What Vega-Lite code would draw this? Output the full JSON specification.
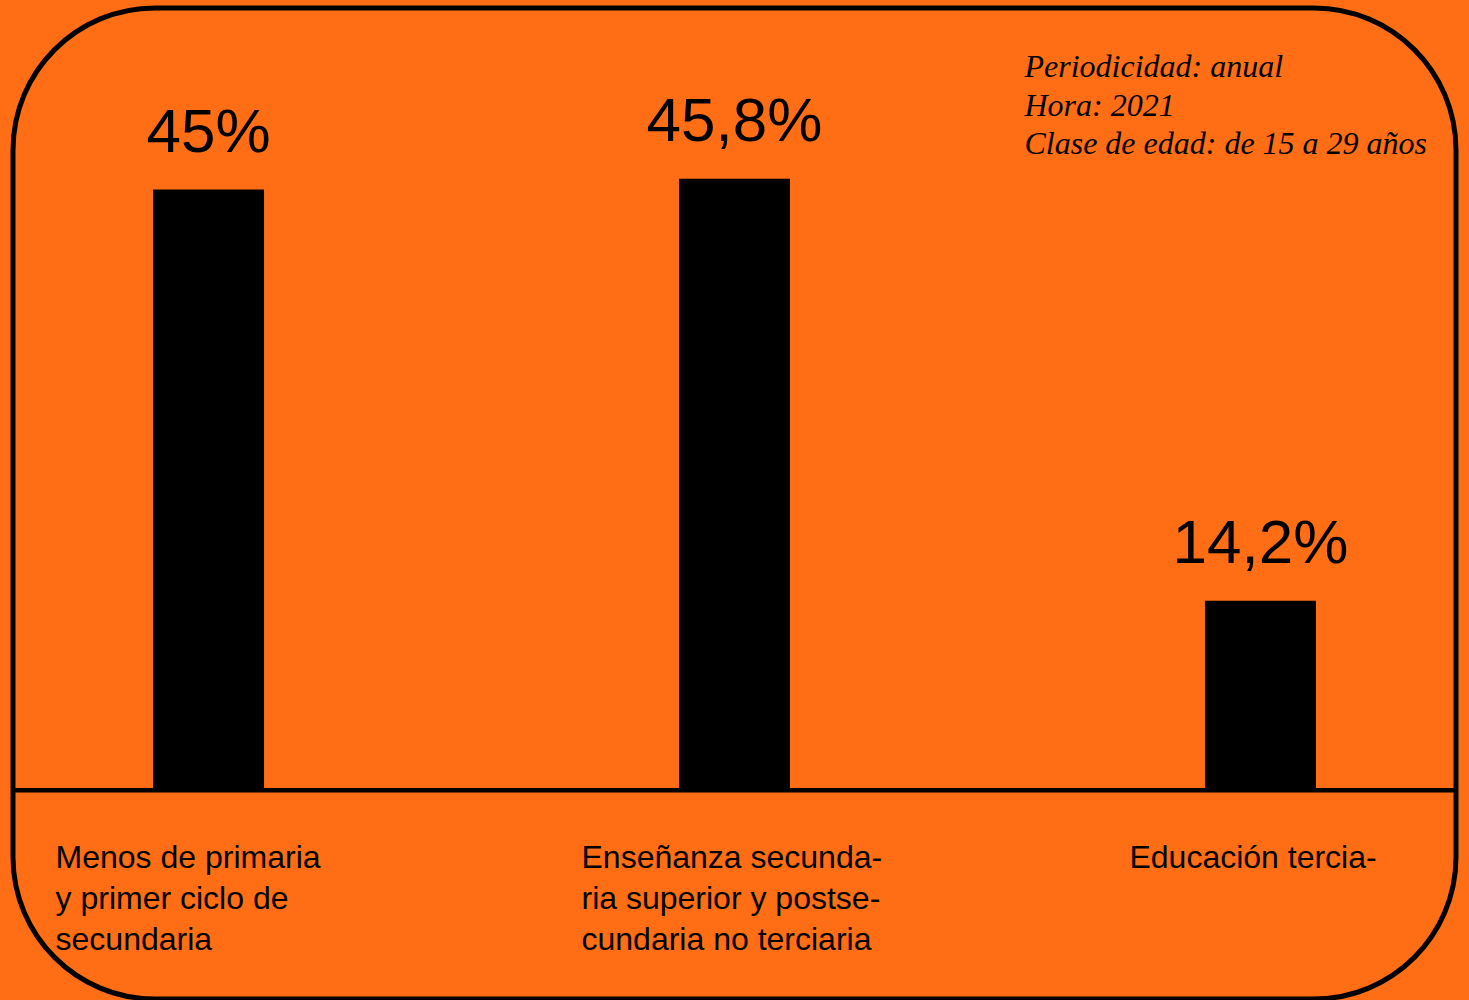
{
  "$schema": "https://vega.github.io/schema/vega-lite/v6.json",
  "width": 1469,
  "height": 1000,
  "autosize": {"type": "fit", "contains": "padding"},
  "padding": {"left": 10, "right": 10, "top": 8, "bottom": 1},
  "background": "#FF6E14",
  "config": {
    "view": {"stroke": "#000000", "strokeWidth": 5, "cornerRadius": 142, "fill": "#FF6E14"}
  },
  "datasets": {
    "barras": [
      {"categoria": "Menos de primaria y primer ciclo de secundaria", "valor": 45, "texto": "45%", "etiqueta": "Menos de primaria\ny primer ciclo de\nsecundaria"},
      {"categoria": "Enseñanza secundaria superior y postsecundaria no terciaria", "valor": 45.8, "texto": "45,8%", "etiqueta": "Enseñanza secunda-\nria superior y postse-\ncundaria no terciaria"},
      {"categoria": "Educación terciaria", "valor": 14.2, "texto": "14,2%", "etiqueta": "Educación tercia-"}
    ],
    "nota": [
      {"categoria": "Educación terciaria", "y": 53.4, "nota": "Periodicidad: anual\nHora: 2021\nClase de edad: de 15 a 29 años"}
    ]
  },
  "layer": [
    {
      "data": {"name": "barras"},
      "mark": {"type": "bar", "color": "#000000"},
      "encoding": {
        "x": {"field": "categoria", "type": "nominal", "sort": null, "axis": null,
              "scale": {"paddingInner": 0.789, "paddingOuter": 0.2663}},
        "y": {"field": "valor", "type": "quantitative", "axis": null,
              "scale": {"domain": [-15.64, 58.6], "nice": false, "zero": false}}
      }
    },
    {
      "data": {"name": "barras"},
      "mark": {"type": "text", "font": "Liberation Sans", "fontSize": 62, "color": "#000000", "baseline": "alphabetic", "align": "center", "dy": -38},
      "encoding": {
        "x": {"field": "categoria", "type": "nominal", "sort": null},
        "y": {"field": "valor", "type": "quantitative"},
        "text": {"field": "texto", "type": "nominal"}
      }
    },
    {
      "data": {"values": [{}]},
      "mark": {"type": "rule", "color": "#000000", "strokeWidth": 4.5},
      "encoding": {"y": {"datum": 0}}
    },
    {
      "data": {"name": "barras"},
      "transform": [{"filter": "datum.valor > 20"}],
      "mark": {"type": "text", "font": "Liberation Sans", "fontSize": 32, "color": "#000000", "align": "left", "baseline": "alphabetic", "lineBreak": "\n", "lineHeight": 41, "dx": -153, "dy": 78},
      "encoding": {
        "x": {"field": "categoria", "type": "nominal", "sort": null},
        "y": {"datum": 0},
        "text": {"field": "etiqueta", "type": "nominal"}
      }
    },
    {
      "data": {"name": "barras"},
      "transform": [{"filter": "datum.valor <= 20"}],
      "mark": {"type": "text", "font": "Liberation Sans", "fontSize": 32, "color": "#000000", "align": "left", "baseline": "alphabetic", "lineBreak": "\n", "lineHeight": 41, "dx": -131, "dy": 78},
      "encoding": {
        "x": {"field": "categoria", "type": "nominal", "sort": null},
        "y": {"datum": 0},
        "text": {"field": "etiqueta", "type": "nominal"}
      }
    },
    {
      "data": {"name": "nota"},
      "mark": {"type": "text", "font": "Liberation Serif", "fontStyle": "italic", "fontSize": 32, "color": "#000000", "align": "left", "baseline": "alphabetic", "lineBreak": "\n", "lineHeight": 38.5, "dx": -236},
      "encoding": {
        "x": {"field": "categoria", "type": "nominal", "sort": null},
        "y": {"field": "y", "type": "quantitative"},
        "text": {"field": "nota", "type": "nominal"}
      }
    }
  ]
}
